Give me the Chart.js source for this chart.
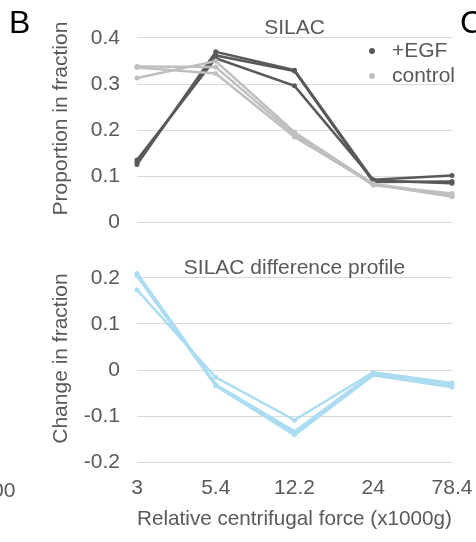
<!DOCTYPE html>
<html>
<head>
<meta charset="utf-8">
<script src="https://cdn.jsdelivr.net/npm/chart.js@4"></script>
<style>
  body { margin: 0; background: #fff; }
  #wrap { position: relative; width: 476px; height: 542px; overflow: hidden; font-family: "Liberation Sans", Arial, sans-serif; }
  .panel { position: absolute; left: 0; }
  .tag { position: absolute; font-size: 32px; line-height: 32px; color: #000; }
  .stub { position: absolute; font-size: 21px; line-height: 21px; color: #595959; }
</style>
</head>
<body>
<div id="wrap">
  <div class="panel" style="top:0;width:476px;height:240px"><canvas id="silac"></canvas></div>
  <div class="panel" style="top:240px;width:476px;height:302px"><canvas id="diff"></canvas></div>
  <div class="tag" style="left:9px;top:6px">B</div>
  <div class="tag" style="left:460px;top:6px">C</div>
  <div class="stub" style="left:-8px;top:479px">00</div>
</div>
<script>
var forces = ["3", "5.4", "12.2", "24", "78.4"];

// proportion of protein per fraction, three replicates each
var egf1 = [0.125, 0.370, 0.330, 0.090, 0.084];
var egf2 = [0.130, 0.362, 0.328, 0.087, 0.088];
var egf3 = [0.135, 0.356, 0.296, 0.092, 0.101];
var ctrl1 = [0.313, 0.350, 0.195, 0.083, 0.058];
var ctrl2 = [0.338, 0.337, 0.190, 0.080, 0.062];
var ctrl3 = [0.336, 0.323, 0.185, 0.082, 0.055];

// difference profiles
var diff1 = [0.174, -0.016, -0.109, -0.005, -0.028];
var diff2 = [0.210, -0.032, -0.134, -0.008, -0.033];
var diff3 = [0.205, -0.034, -0.141, -0.011, -0.037];

var FONT = "'Liberation Sans', Arial, sans-serif";
var TEXT = "#595959";
var DARK = "#595959";
var LIGHT = "#bfbfbf";
var BLUE = "#acdcf2";

Chart.defaults.font.family = FONT;
Chart.defaults.color = TEXT;

var line = function(data, color, width) {
    return {
        data: data,
        borderColor: color,
        backgroundColor: color,
        borderWidth: width,
        pointRadius: 2.5,
        pointBorderWidth: 0,
        tension: 0
    };
};

// heading inside the plot + optional dot legend
var panelText = {
    id: 'panelText',
    afterDatasetsDraw: function(chart, args, opts) {
        var ctx = chart.ctx;
        var area = chart.chartArea;
        ctx.save();
        ctx.font = "21px " + FONT;
        ctx.fillStyle = TEXT;
        ctx.textAlign = 'center';
        ctx.textBaseline = 'middle';
        ctx.fillText(opts.text, (area.left + area.right) / 2, 28);
        (opts.legend || []).forEach(function(item, i) {
            var y = 51 + i * 25;
            ctx.beginPath();
            ctx.fillStyle = item.color;
            ctx.arc(372, y, 3, 0, Math.PI * 2);
            ctx.fill();
            ctx.fillStyle = TEXT;
            ctx.textAlign = 'left';
            ctx.fillText(item.label, 392, y);
        });
        ctx.restore();
    }
};

var tenths = function(value) {
    var v = Math.round(value * 100);
    if (v % 10 !== 0) return '';
    return String(v / 100);
};

// fixed axis sizes so both plots line up; labels may overhang the plot edges
var yAxis = function(min, max, title) {
    return {
        min: min,
        max: max,
        border: { display: false },
        grid: { color: '#d9d9d9', lineWidth: 1, drawTicks: false },
        ticks: { stepSize: 0.05, padding: 17, font: { size: 21 }, color: TEXT, callback: tenths },
        title: { display: true, text: title, font: { size: 21 }, color: TEXT, padding: { top: 49, bottom: 0 } },
        afterFit: function(scale) {
            scale.width = 137;
            scale.paddingTop = 0;
            scale.paddingBottom = 0;
        }
    };
};

new Chart('silac', {
    type: 'line',
    data: {
        labels: forces,
        datasets: [
            line(ctrl1, LIGHT, 2.5),
            line(ctrl2, LIGHT, 2.5),
            line(ctrl3, LIGHT, 2.5),
            line(egf1, DARK, 2.5),
            line(egf2, DARK, 2.5),
            line(egf3, DARK, 2.5)
        ]
    },
    options: {
        responsive: true,
        maintainAspectRatio: false,
        animation: false,
        layout: { padding: { top: 15, right: 24, bottom: 18, left: 0 } },
        scales: {
            x: { display: false, offset: false },
            y: yAxis(0, 0.45, 'Proportion in fraction')
        },
        plugins: {
            legend: { display: false },
            tooltip: { enabled: false },
            panelText: {
                text: 'SILAC',
                legend: [
                    { label: '+EGF', color: DARK },
                    { label: 'control', color: LIGHT }
                ]
            }
        }
    },
    plugins: [panelText]
});

new Chart('diff', {
    type: 'line',
    data: {
        labels: forces,
        datasets: [
            line(diff1, BLUE, 2.5),
            line(diff2, BLUE, 3),
            line(diff3, BLUE, 3)
        ]
    },
    options: {
        responsive: true,
        maintainAspectRatio: false,
        animation: false,
        layout: { padding: { top: 15, right: 24, bottom: 0, left: 0 } },
        scales: {
            x: {
                offset: false,
                border: { display: false },
                grid: { display: false },
                ticks: { padding: 6, font: { size: 21 }, color: TEXT, autoSkip: false, maxRotation: 0 },
                title: { display: true, text: 'Relative centrifugal force (x1000g)', font: { size: 21 }, color: TEXT, padding: { top: 0, bottom: 10 } },
                afterFit: function(scale) {
                    scale.height = 80;
                    scale.paddingLeft = 0;
                    scale.paddingRight = 0;
                }
            },
            y: yAxis(-0.2, 0.25, 'Change in fraction')
        },
        plugins: {
            legend: { display: false },
            tooltip: { enabled: false },
            panelText: { text: 'SILAC difference profile' }
        }
    },
    plugins: [panelText]
});
</script>
</body>
</html>
